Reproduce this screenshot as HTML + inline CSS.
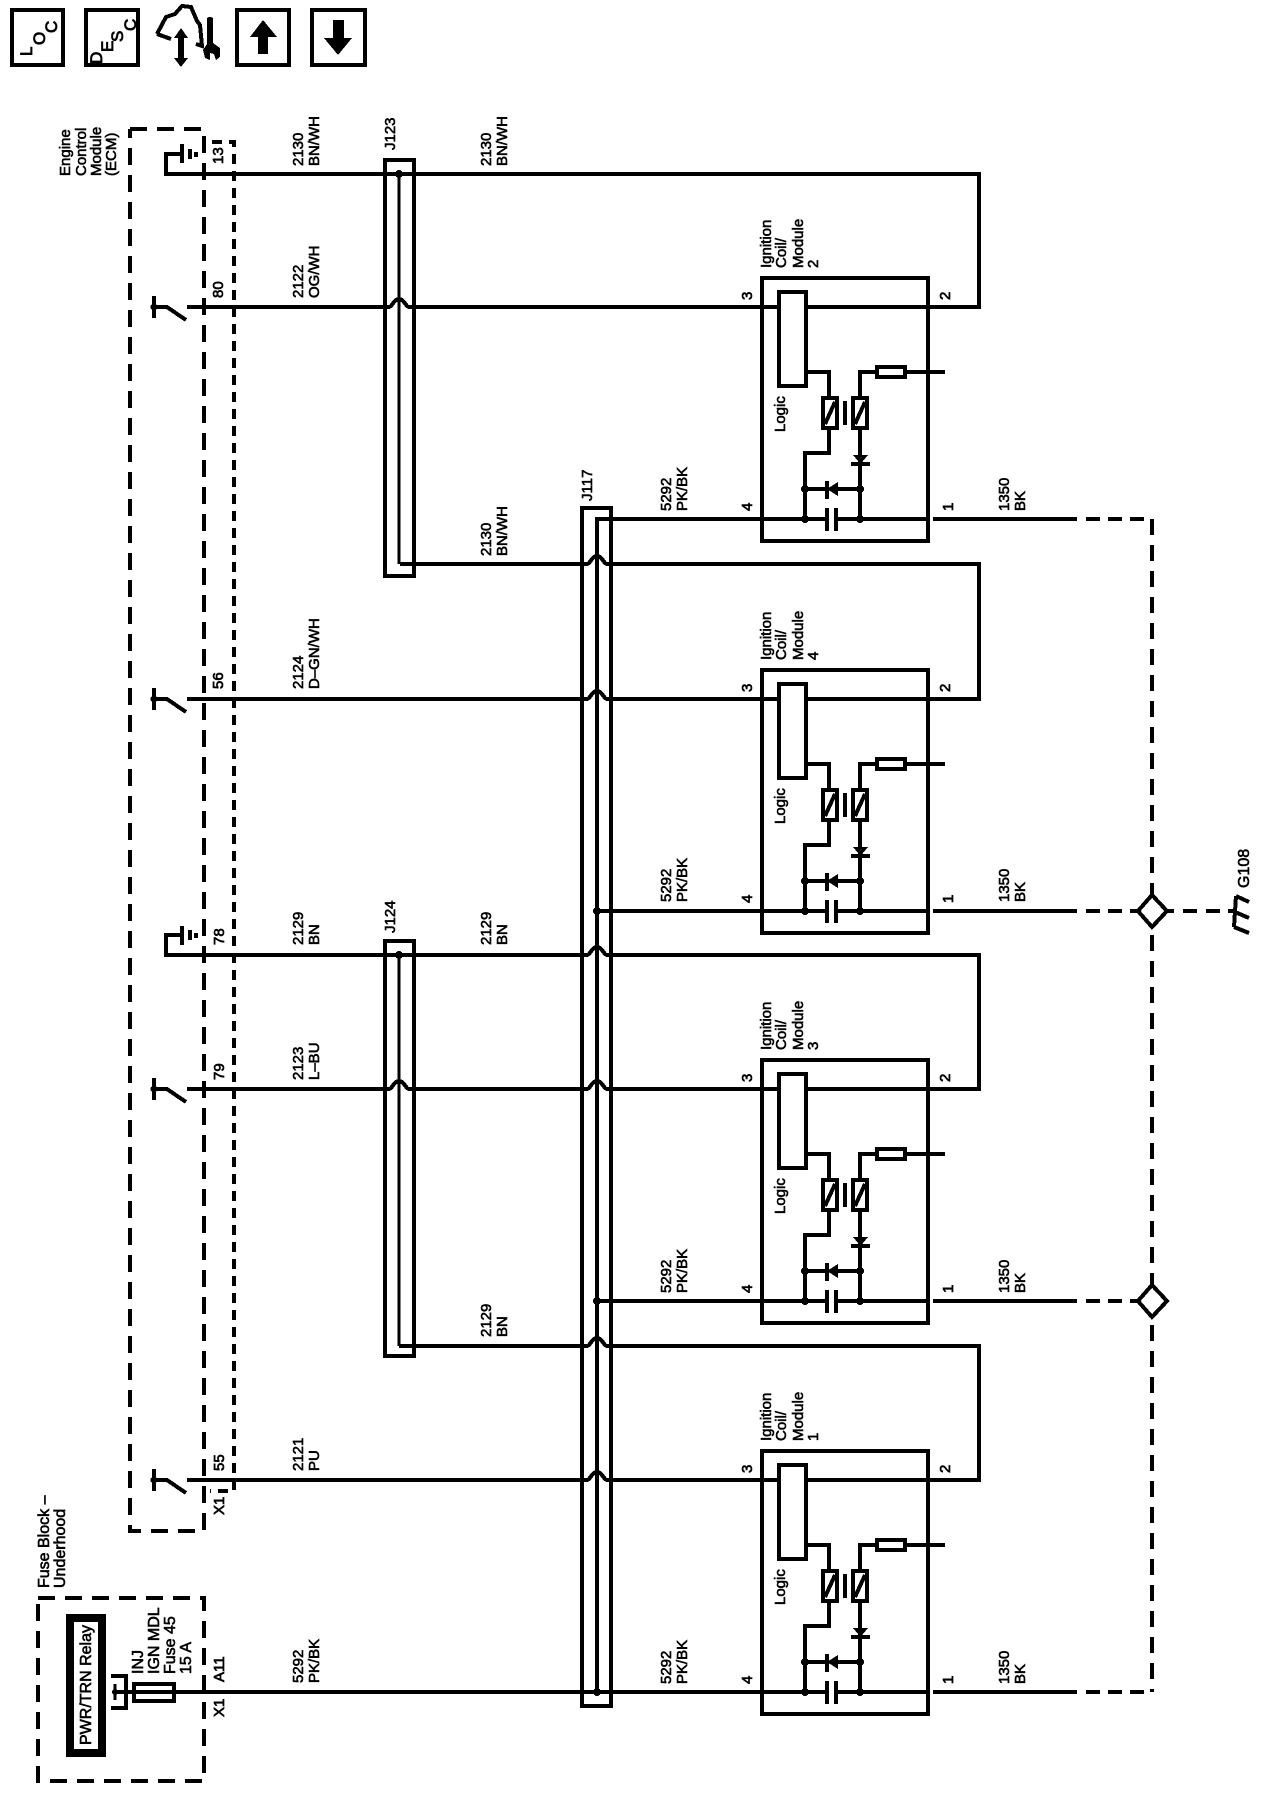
<!DOCTYPE html>
<html><head><meta charset="utf-8"><title>Ignition diagram</title>
<style>
html,body{margin:0;padding:0;background:#fff;width:1280px;height:1800px;overflow:hidden}
svg{display:block}
text{font-family:"Liberation Sans",sans-serif;font-size:15px;fill:#000;stroke:#000;stroke-width:.6px}
.p{font-size:15px;stroke-width:.7px}
.l{font-size:16px}
.w{fill:none;stroke:#000;stroke-width:4}
.t{fill:none;stroke:#000;stroke-width:3}
.d{fill:none;stroke:#000;stroke-width:4}
.i{font-size:17px;stroke-width:.8px}
</style></head><body>
<svg width="1280" height="1800" viewBox="0 0 1280 1800" xmlns="http://www.w3.org/2000/svg" shape-rendering="crispEdges">
<defs>
<g id="mod">
<rect class="w" x="762" y="278" width="166" height="263"/>
<path class="w" d="M806 372H829V397M829 429V453H805V519M860 397V372H876M906 372H945M860 429V519"/>
<rect class="w" x="779" y="292" width="27" height="94" style="fill:#fff"/>
<rect class="w" x="823" y="398" width="14" height="30"/>
<path class="w" d="M825 424L835 402"/>
<path class="w" d="M845 401V425"/>
<rect class="w" x="853" y="398" width="14" height="30"/>
<path class="w" d="M855 424L865 402"/>
<rect class="w" x="877" y="367" width="28" height="10"/>
<path d="M853 455H868L860.500 464Z"/>
<path class="w" d="M851 464H870"/>
<path class="w" d="M805 489H826M836 489H860"/>
<path class="w" d="M827 481V499"/>
<path d="M827 489L838 482V496Z"/>
<path class="w" d="M827 508V531M836 508V531"/>
<circle cx="805" cy="489" r="4"/><circle cx="860" cy="489" r="4"/>
<circle cx="805" cy="519" r="4"/><circle cx="860" cy="519" r="4"/>
<path class="w" d="M836 519H929M933 519H1077"/>
</g>
</defs>

<!-- nav icons -->
<rect class="w" x="12" y="10" width="51" height="55"/>
<rect class="w" x="86" y="10" width="52" height="55"/>
<rect class="w" x="237" y="10" width="52" height="55"/>
<rect class="w" x="312" y="10" width="53" height="55"/>
<text class="i" transform="translate(32,56) rotate(-90)">L</text>
<text class="i" transform="translate(45,45) rotate(-90)">O</text>
<text class="i" transform="translate(57,33) rotate(-90)">C</text>
<text class="i" transform="translate(102,64) rotate(-90)">D</text>
<text class="i" transform="translate(113,52) rotate(-90)">E</text>
<text class="i" transform="translate(123,42) rotate(-90)">S</text>
<text class="i" transform="translate(136,31) rotate(-90)">C</text>
<path class="w" d="M157 34L166 17L175 14L182 6L191 7L197 21L200 25L202 46L196 44M157 34L171 39"/>
<path d="M181 28L188 38H184V58H188L181 67L174 58H178V38H174Z"/>
<path d="M207 18Q210 16 213 18V43L220 48V57L216 60L214 54L210 53V60L205 58L203 50L207 44Z"/>
<path d="M263 20L277 37H268V54H258V37H250Z"/>
<path d="M333 20H344V38H352L338 55L324 38H333Z"/>

<!-- ECM dashed -->
<path class="d" stroke-dasharray="17 10" d="M130 129H204V1531H130V129"/>
<path class="d" stroke-dasharray="10 7" d="M212 142H234V1491H210"/>

<!-- Fuse block dashed -->
<path class="d" stroke-dasharray="17 10" d="M38 1598H204V1781H38V1598"/>
<rect x="70" y="1618" width="32" height="135" fill="none" stroke="#000" stroke-width="8"/>
<path class="w" d="M111 1676H126V1708H111"/>
<path class="t" d="M115 1684V1700"/>
<circle cx="115" cy="1692" r="3"/>
<rect class="w" x="134" y="1684" width="40" height="17"/>

<!-- wires -->
<path class="w" d="M182 154H166V174H979V307H806"/>
<path class="w" d="M187 307H389c3 0 5 -8 10 -8s7 8 10 8H777"/>
<path class="w" d="M400 564H587c3 0 5 -8 10 -8s7 8 10 8H979V699H806"/>
<path class="t" d="M399 174V564"/>
<path class="w" d="M187 699H587c3 0 5 -8 10 -8s7 8 10 8H777"/>
<path class="w" d="M182 935H166V955H587c3 0 5 -8 10 -8s7 8 10 8H979V1089H806"/>
<path class="t" d="M399 955V1346"/>
<path class="w" d="M187 1089H389c3 0 5 -8 10 -8s7 8 10 8H587c3 0 5 -8 10 -8s7 8 10 8H777"/>
<path class="w" d="M399 1346H587c3 0 5 -8 10 -8s7 8 10 8H979V1480H806"/>
<path class="w" d="M187 1480H587c3 0 5 -8 10 -8s7 8 10 8H777"/>
<path class="w" d="M597 1692V519H826M597 911H826M597 1301H826M113 1692H826"/>
<rect class="w" x="385" y="160" width="29" height="416"/>
<rect class="w" x="385" y="941" width="29" height="415"/>
<rect class="w" x="582" y="508" width="29" height="1198"/>
<circle cx="399" cy="174" r="4"/><circle cx="399" cy="955" r="4"/>
<circle cx="597" cy="911" r="4"/><circle cx="597" cy="1301" r="4"/><circle cx="597" cy="1692" r="4"/>

<!-- modules -->
<use href="#mod"/>
<use href="#mod" y="392"/>
<use href="#mod" y="782"/>
<use href="#mod" y="1173"/>

<!-- ground symbols -->
<path class="w" d="M182 144V163M190 149V159M196 152V157"/>
<path class="w" d="M182 926V945M190 930V940M196 933V938"/>

<!-- switches -->
<g id="s1"><path class="w" d="M154 296V318M154 307H167L186 320"/><circle cx="154" cy="307" r="3.500"/></g>
<use href="#s1" y="392"/><use href="#s1" y="782"/><use href="#s1" y="1173"/>

<!-- ground dashed bus -->
<path class="d" stroke-dasharray="14 8" d="M1086 519H1152"/>
<path class="d" stroke-dasharray="14 8" d="M1086 911H1152"/>
<path class="d" stroke-dasharray="14 8" d="M1086 1301H1152"/>
<path class="d" stroke-dasharray="14 8" d="M1086 1692H1152"/>
<path class="d" stroke-dasharray="16 10" d="M1152 519V1692"/>
<path class="d" d="M1168 911H1174M1183 911H1197M1206 911H1220M1228 911H1236"/>
<path class="w" style="fill:#fff" d="M1152 895L1167 911L1152 927L1138 911Z"/>
<path class="w" style="fill:#fff" d="M1152 1285L1167 1301L1152 1317L1138 1301Z"/>
<path class="w" d="M1236 896L1234 927M1236 896L1249 902M1235 912L1249 918M1234 927L1249 933"/>

<!-- ECM label -->
<text transform="translate(70,176) rotate(-90)">Engine</text>
<text transform="translate(86,176) rotate(-90)">Control</text>
<text transform="translate(101,176) rotate(-90)">Module</text>
<text transform="translate(116,176) rotate(-90)">(ECM)</text>

<!-- pin labels -->
<text class="p" transform="translate(223,164) rotate(-90)">13</text>
<text class="p" transform="translate(223,298) rotate(-90)">80</text>
<text class="p" transform="translate(223,689) rotate(-90)">56</text>
<text class="p" transform="translate(224,945) rotate(-90)">78</text>
<text class="p" transform="translate(224,1080) rotate(-90)">79</text>
<text class="p" transform="translate(224,1471) rotate(-90)">55</text>
<text class="p" transform="translate(224,1515) rotate(-90)">X1</text>
<text class="p" transform="translate(224,1682) rotate(-90)">A11</text>
<text class="p" transform="translate(224,1717) rotate(-90)">X1</text>

<!-- wire labels column 1 -->
<text transform="translate(303,166) rotate(-90)">2130</text><text transform="translate(319,166) rotate(-90)">BN/WH</text>
<text transform="translate(303,298) rotate(-90)">2122</text><text transform="translate(319,298) rotate(-90)">OG/WH</text>
<text transform="translate(303,689) rotate(-90)">2124</text><text transform="translate(319,689) rotate(-90)">D–GN/WH</text>
<text transform="translate(303,945) rotate(-90)">2129</text><text transform="translate(319,945) rotate(-90)">BN</text>
<text transform="translate(303,1080) rotate(-90)">2123</text><text transform="translate(319,1080) rotate(-90)">L–BU</text>
<text transform="translate(303,1471) rotate(-90)">2121</text><text transform="translate(319,1471) rotate(-90)">PU</text>
<text transform="translate(303,1683) rotate(-90)">5292</text><text transform="translate(319,1683) rotate(-90)">PK/BK</text>

<!-- wire labels column 2 -->
<text transform="translate(491,166) rotate(-90)">2130</text><text transform="translate(507,166) rotate(-90)">BN/WH</text>
<text transform="translate(491,556) rotate(-90)">2130</text><text transform="translate(507,556) rotate(-90)">BN/WH</text>
<text transform="translate(491,945) rotate(-90)">2129</text><text transform="translate(507,945) rotate(-90)">BN</text>
<text transform="translate(491,1337) rotate(-90)">2129</text><text transform="translate(507,1337) rotate(-90)">BN</text>

<!-- connectors -->
<text transform="translate(395,150) rotate(-90)">J123</text>
<text transform="translate(395,933) rotate(-90)">J124</text>
<text transform="translate(592,501) rotate(-90)">J117</text>

<!-- 5292 / 1350 labels -->
<text transform="translate(671,511) rotate(-90)">5292</text><text transform="translate(687,511) rotate(-90)">PK/BK</text>
<text transform="translate(671,902) rotate(-90)">5292</text><text transform="translate(687,902) rotate(-90)">PK/BK</text>
<text transform="translate(671,1293) rotate(-90)">5292</text><text transform="translate(687,1293) rotate(-90)">PK/BK</text>
<text transform="translate(671,1684) rotate(-90)">5292</text><text transform="translate(687,1684) rotate(-90)">PK/BK</text>
<text transform="translate(1009,511) rotate(-90)">1350</text><text transform="translate(1025,511) rotate(-90)">BK</text>
<text transform="translate(1009,902) rotate(-90)">1350</text><text transform="translate(1025,902) rotate(-90)">BK</text>
<text transform="translate(1009,1293) rotate(-90)">1350</text><text transform="translate(1025,1293) rotate(-90)">BK</text>
<text transform="translate(1009,1684) rotate(-90)">1350</text><text transform="translate(1025,1684) rotate(-90)">BK</text>

<!-- module 2 labels -->
<text transform="translate(771,268) rotate(-90)">Ignition</text><text transform="translate(786,268) rotate(-90)">Coil/</text><text transform="translate(803,268) rotate(-90)">Module</text><text transform="translate(818,268) rotate(-90)">2</text>
<text transform="translate(785,432) rotate(-90)">Logic</text>
<text class="p" transform="translate(752,300) rotate(-90)">3</text><text class="p" transform="translate(752,511) rotate(-90)">4</text>
<text class="p" transform="translate(950,300) rotate(-90)">2</text><text class="p" transform="translate(953,511) rotate(-90)">1</text>
<!-- module 4 -->
<text transform="translate(771,660) rotate(-90)">Ignition</text><text transform="translate(786,660) rotate(-90)">Coil/</text><text transform="translate(803,660) rotate(-90)">Module</text><text transform="translate(818,660) rotate(-90)">4</text>
<text transform="translate(785,824) rotate(-90)">Logic</text>
<text class="p" transform="translate(752,692) rotate(-90)">3</text><text class="p" transform="translate(752,903) rotate(-90)">4</text>
<text class="p" transform="translate(950,692) rotate(-90)">2</text><text class="p" transform="translate(953,903) rotate(-90)">1</text>
<!-- module 3 -->
<text transform="translate(771,1050) rotate(-90)">Ignition</text><text transform="translate(786,1050) rotate(-90)">Coil/</text><text transform="translate(803,1050) rotate(-90)">Module</text><text transform="translate(818,1050) rotate(-90)">3</text>
<text transform="translate(785,1214) rotate(-90)">Logic</text>
<text class="p" transform="translate(752,1082) rotate(-90)">3</text><text class="p" transform="translate(752,1293) rotate(-90)">4</text>
<text class="p" transform="translate(950,1082) rotate(-90)">2</text><text class="p" transform="translate(953,1293) rotate(-90)">1</text>
<!-- module 1 -->
<text transform="translate(771,1441) rotate(-90)">Ignition</text><text transform="translate(786,1441) rotate(-90)">Coil/</text><text transform="translate(803,1441) rotate(-90)">Module</text><text transform="translate(818,1441) rotate(-90)">1</text>
<text transform="translate(785,1605) rotate(-90)">Logic</text>
<text class="p" transform="translate(752,1473) rotate(-90)">3</text><text class="p" transform="translate(752,1684) rotate(-90)">4</text>
<text class="p" transform="translate(950,1473) rotate(-90)">2</text><text class="p" transform="translate(953,1684) rotate(-90)">1</text>

<!-- fuse block text -->
<text class="l" transform="translate(49,1588) rotate(-90)">Fuse Block –</text>
<text class="l" transform="translate(65,1588) rotate(-90)">Underhood</text>
<text class="l" transform="translate(91,1745) rotate(-90)">PWR/TRN Relay</text>
<text class="l" transform="translate(143,1674) rotate(-90)">INJ</text>
<text class="l" transform="translate(159,1674) rotate(-90)">IGN MDL</text>
<text class="l" transform="translate(175,1674) rotate(-90)">Fuse 45</text>
<text class="l" transform="translate(191,1674) rotate(-90)">15 A</text>
<text class="l" transform="translate(1249,888) rotate(-90)">G108</text>
</svg>
</body></html>
